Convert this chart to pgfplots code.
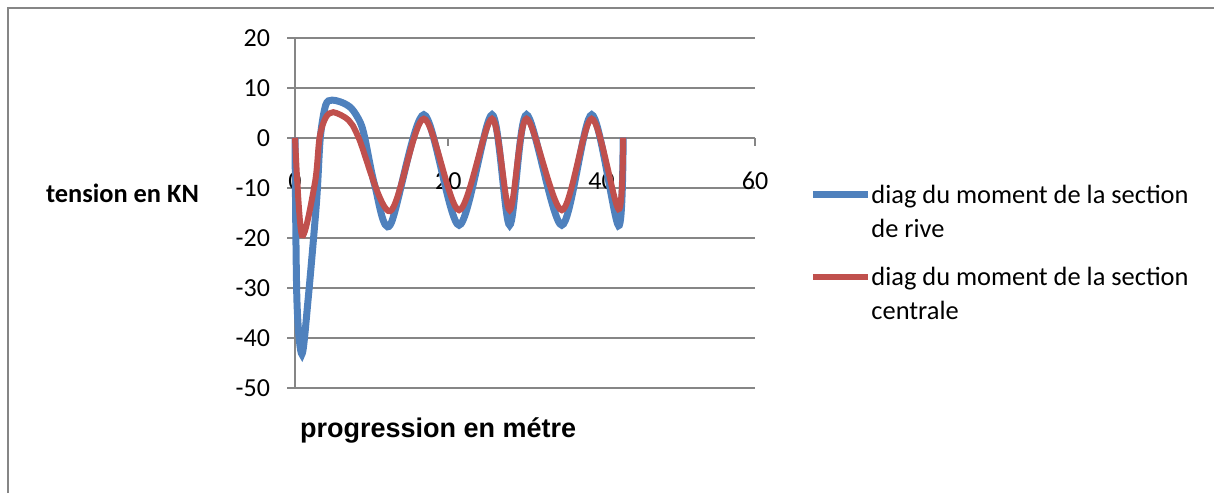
\documentclass[border=0pt]{standalone}
\usepackage{fontspec}
\setmainfont{Carlito}
\newfontfamily\arialfont{Liberation Sans}
\usepackage{pgfplots}
\pgfplotsset{compat=1.18}
\definecolor{rive}{HTML}{4F81BD}
\definecolor{centrale}{HTML}{C0504D}
\definecolor{gridgray}{HTML}{868686}

% moment diagrams
\pgfplotstableread{
x y
0 0
0.25 -32.5
0.9 -43.3
1.7 -32.5
2.8 -13
3.3 0
4.0 6.5
4.8 7.5
6.2 7
7.4 5.8
8.5 3.1
9.1 0
10.4 -9.5
12.4 -17.5
16.8 4.6
21.4 -17.5
25.7 4.6
28 -17.5
30.2 4.6
34.8 -17.5
38.7 4.6
42.2 -17.6
42.8 0
}\rive
\pgfplotstableread{
x y
0 0
0.9 -19.5
2.6 -9
3.2 0
4.0 4
5.0 5.1
7.0 3.5
8.3 0
12.4 -14.7
16.8 3.8
21.4 -14.5
25.7 3.8
28 -14.5
30.2 3.8
34.8 -14.5
38.7 3.8
42.2 -14.3
42.8 0
}\centrale

\begin{document}
\begin{tikzpicture}
\useasboundingbox (0,0) rectangle (607pt,246.5pt);
\draw[gridgray, line width=1.2pt] (4pt,0) -- (4pt,242.5pt) -- (607pt,242.5pt);
\begin{axis}[
  at={(147.5pt,52.65pt)}, anchor=south west,
  scale only axis, width=230pt, height=175pt,
  xmin=0, xmax=60, ymin=-50, ymax=20,
  xtick={0,20,40,60}, ytick={-50,-40,...,20},
  axis x line=middle, axis y line=left,
  hide obscured x ticks=false,
  axis line style={gridgray, line width=1pt, -},
  ymajorgrids, grid style={gridgray, line width=1pt},
  tick style={gridgray, line width=1pt},
  tick align=outside, major tick length=4pt,
  font=\fontsize{13}{15}\selectfont,
  /pgf/number format/assume math mode=true,
  xticklabel style={anchor=center, yshift=-17.5pt},
  yticklabel style={xshift=-5pt},
  clip=false,
  xlabel={\arialfont\bfseries\fontsize{13.5}{16}\selectfont progression en métre},
  xlabel style={at={(rel axis cs:0.311,-0.121)}, anchor=center},
  ylabel={\bfseries\fontsize{13.2}{16}\selectfont tension en KN},
  ylabel style={at={(rel axis cs:-0.375,0.556)}, anchor=center, rotate=-90},
  legend style={draw=none, fill=none, at={(rel axis cs:1.1175,0.592)}, anchor=north west,
    inner sep=0pt, cells={anchor=base west, align=left},
    column sep=-2pt,
    font=\fontsize{13.2}{17}\selectfont, row sep=9.5pt},
  legend image code/.code={\draw[#1] (0pt,21.5pt) -- (27.5pt,21.5pt);},
]
\addplot[rive, line width=3.5pt, smooth] table {\rive};
\addlegendentry{diag du moment de la section\\de rive}
\addplot[centrale, line width=3pt, smooth] table {\centrale};
\addlegendentry{diag du moment de la section\\centrale}
\end{axis}
\end{tikzpicture}
\end{document}
